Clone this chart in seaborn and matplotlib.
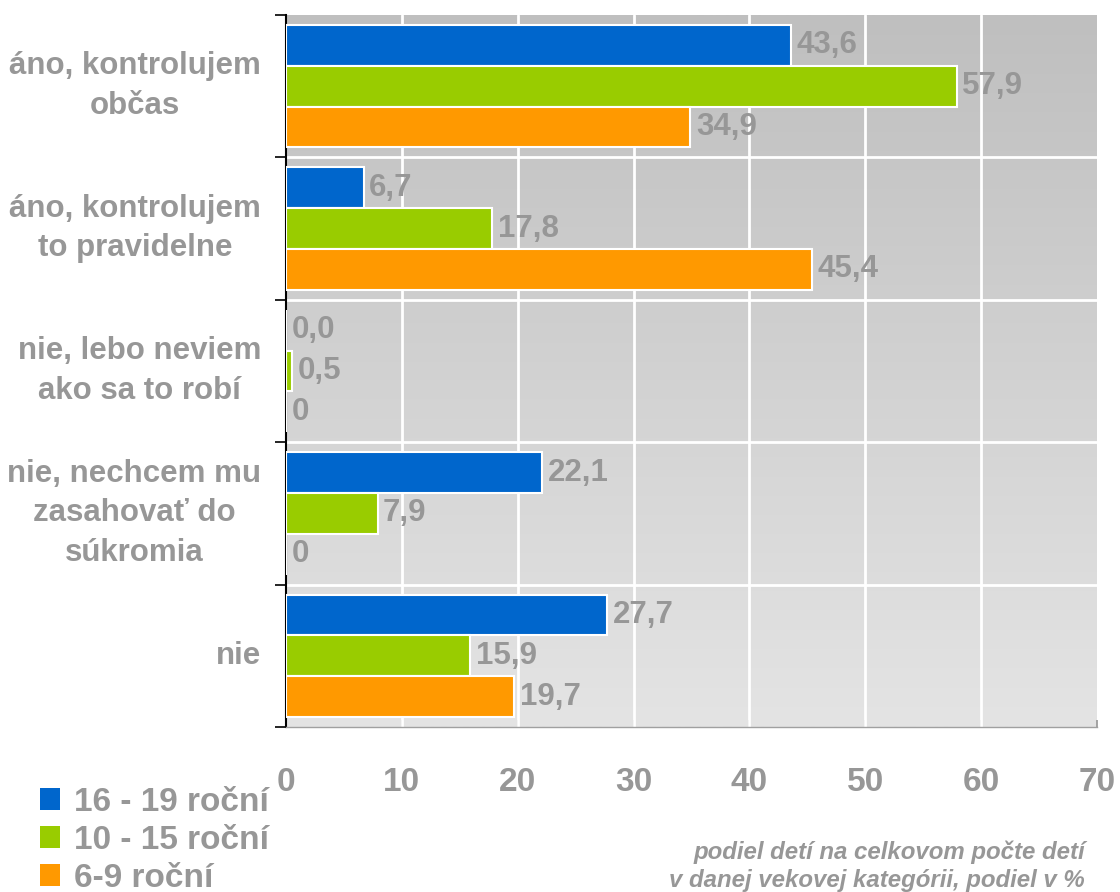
import numpy as np
import pandas as pd
import matplotlib
matplotlib.use('Agg')
import matplotlib.pyplot as plt
import seaborn as sns

# Data
categories = ['áno, kontrolujem\nobčas',
              'áno, kontrolujem\nto pravidelne',
              'nie, lebo neviem\nako sa to robí',
              'nie, nechcem mu\nzasahovať do\nsúkromia',
              'nie']
groups = ['16 - 19 roční', '10 - 15 roční', '6-9 roční']
vals_16_19 = [43.6, 6.7, 0.0, 22.1, 27.7]
vals_10_15 = [57.9, 17.8, 0.5, 7.9, 15.9]
vals_6_9 = [34.9, 45.4, 0.0, 0.0, 19.7]
labels_16_19 = ['43,6', '6,7', '0,0', '22,1', '27,7']
labels_10_15 = ['57,9', '17,8', '0,5', '7,9', '15,9']
labels_6_9 = ['34,9', '45,4', '0', '0', '19,7']
x_ticks = [0, 10, 20, 30, 40, 50, 60, 70]
x_title = 'podiel detí na celkovom počte detí\nv danej vekovej kategórii, podiel v %'

colors = ['#0066CC', '#99CC00', '#FF9900']
txt_grey = '#979797'

df = pd.DataFrame({
    'kategoria': categories * 3,
    'skupina': [groups[0]] * 5 + [groups[1]] * 5 + [groups[2]] * 5,
    'podiel': vals_16_19 + vals_10_15 + vals_6_9,
})

sns.set_theme(style='white')
plt.rcParams['font.family'] = ['Liberation Sans', 'DejaVu Sans']
plt.rcParams['font.weight'] = 'bold'

fig = plt.figure(figsize=(11.2, 8.92), dpi=100)
ax = fig.add_axes([286 / 1120, 1 - 727 / 892, (1097 - 286) / 1120, (727 - 15) / 892])

# gradient background
grad = np.linspace(0, 1, 256).reshape(-1, 1)
cmap = matplotlib.colors.LinearSegmentedColormap.from_list('bg', ['#bfbfbf', '#e4e4e4'])
ax.imshow(grad, extent=[0, 1, 0, 1], transform=ax.transAxes, aspect='auto',
          cmap=cmap, zorder=0)

sns.barplot(data=df, y='kategoria', x='podiel', hue='skupina', orient='h',
            palette=colors, saturation=1, width=0.86, edgecolor='white',
            linewidth=1.5, ax=ax, zorder=3, legend=True)

for cont, labs in zip(ax.containers, [labels_16_19, labels_10_15, labels_6_9]):
    ax.bar_label(cont, labels=labs, padding=4, fontsize=22.5, color=txt_grey,
                 fontweight='bold', zorder=4)

ax.set_xlim(0, 70)
ax.set_ylim(4.5, -0.5)

# grid
for xv in x_ticks[1:-1]:
    ax.axvline(xv, color='white', lw=2, zorder=1)
for yv in [0.5, 1.5, 2.5, 3.5]:
    ax.axhline(yv, color='white', lw=2, zorder=1)

ax.set_xticks(x_ticks)
ax.set_xticklabels([str(v) for v in x_ticks])
ax.tick_params(axis='x', direction='in', length=5, color='#999999', pad=29,
               labelsize=24, labelcolor=txt_grey, bottom=True)
ax.set_yticks(range(len(categories)))
ax.set_yticklabels(categories)
ax.tick_params(axis='y', length=0, pad=18, labelsize=22.5, labelcolor=txt_grey)
for t in ax.get_yticklabels():
    t.set_multialignment('center')
    t.set_verticalalignment('center')
    t.set_fontweight('bold')
    t.set_linespacing(1.42)
for t in ax.get_xticklabels():
    t.set_fontweight('bold')
ax.set_yticks([-0.5, 0.5, 1.5, 2.5, 3.5, 4.5], minor=True)
ax.tick_params(axis='y', which='minor', length=8, width=1.2, color='black',
               direction='out', left=True)

ax.set_xlabel('')
ax.set_ylabel('')
for s in ['top', 'right']:
    ax.spines[s].set_visible(False)
ax.spines['left'].set_color('black')
ax.spines['left'].set_linewidth(1.5)
ax.spines['bottom'].set_color('#a0a0a0')
ax.spines['bottom'].set_linewidth(1)

handles, labs = ax.get_legend_handles_labels()
ax.legend(handles, labs, loc='upper left', bbox_to_anchor=(0.036, 0.118),
          bbox_transform=fig.transFigure, frameon=False,
          labelcolor=txt_grey, handlelength=0.6, handleheight=0.6,
          handletextpad=0.4, labelspacing=0.21, borderpad=0, borderaxespad=0,
          prop={'weight': 'bold', 'size': 24})
for h in ax.get_legend().legend_handles:
    h.set_edgecolor('none')

fig.text(1085 / 1120, 1 - 840 / 892, x_title, ha='right', va='top',
         fontsize=17.3, style='italic', fontweight='bold', color=txt_grey,
         multialignment='right', linespacing=1.32)

fig.savefig('out.png', dpi=100)
